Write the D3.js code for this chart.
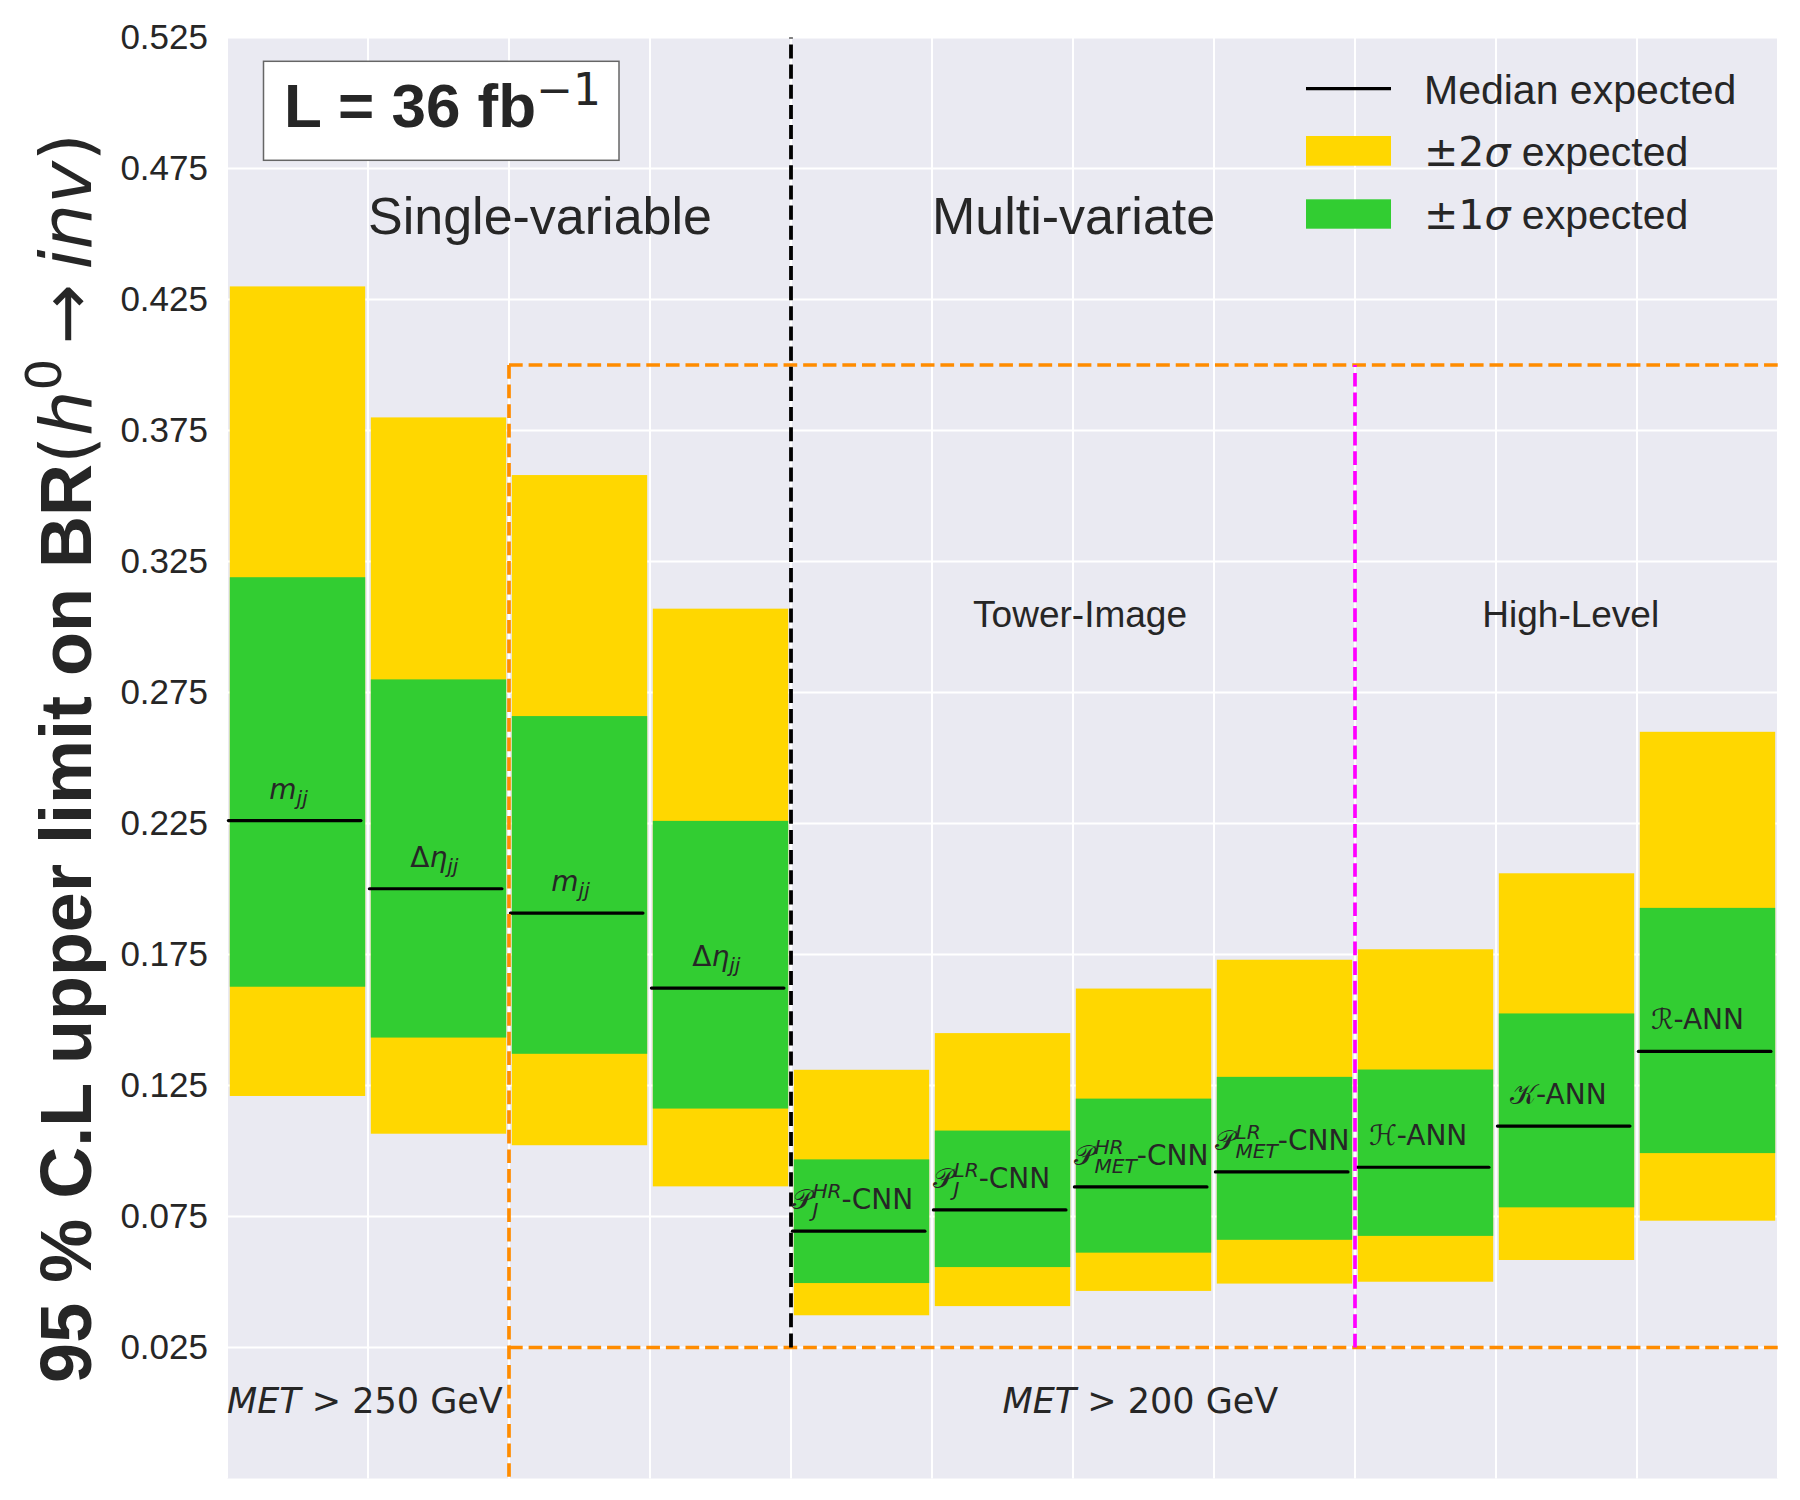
<!DOCTYPE html>
<html>
<head>
<meta charset="utf-8">
<script src="https://cdn.jsdelivr.net/npm/d3@7"></script>
<style>
  body { margin: 0; background: #fff; }
  text { fill: #262626; }
</style>
</head>
<body>
<div id="my_dataviz"></div>
<script>
// values
var hi2 = [0.430, 0.380, 0.358, 0.307, 0.131, 0.145, 0.162, 0.173, 0.177, 0.206, 0.260];
var hi1 = [0.319, 0.280, 0.266, 0.226, 0.0968, 0.1078, 0.120, 0.1283, 0.1311, 0.1525, 0.1928];
var median = [0.2261, 0.2001, 0.1908, 0.1622, 0.0694, 0.0775, 0.0863, 0.0920, 0.0938, 0.1095, 0.1380];
var lo1 = [0.1627, 0.1433, 0.1371, 0.1162, 0.0496, 0.0557, 0.0612, 0.0661, 0.0676, 0.0785, 0.0992];
var lo2 = [0.1210, 0.1066, 0.1022, 0.0865, 0.0373, 0.0408, 0.0466, 0.0494, 0.0501, 0.0584, 0.0734];

var labelMain = ["m", "Δη", "m", "Δη", "𝒫", "𝒫", "𝒫", "𝒫", "ℋ", "𝒦", "ℛ"];
var labelSup  = ["", "", "", "", "HR", "LR", "HR", "LR", "", "", ""];
var labelSub  = ["jj", "jj", "jj", "jj", "J", "J", "MET", "MET", "", "", ""];
var labelTail = ["", "", "", "", "-CNN", "-CNN", "-CNN", "-CNN", "-ANN", "-ANN", "-ANN"];

var yTicks = [0.025, 0.075, 0.125, 0.175, 0.225, 0.275, 0.325, 0.375, 0.425, 0.475, 0.525];
var xGrid = [0, 1, 2, 3, 4, 5, 6, 7, 8, 9, 10, 11];

var W = 1800, H = 1500;
var margin = {top: 37.5, right: 22, bottom: 21.5, left: 227},
    width = W - margin.left - margin.right,
    height = H - margin.top - margin.bottom;

var svg = d3.select("#my_dataviz")
  .append("svg")
    .attr("width", W)
    .attr("height", H);
var g = svg.append("g")
    .attr("transform", "translate(" + margin.left + "," + margin.top + ")");

var x = d3.scaleLinear().domain([0, 11]).range([0, width]);
var y = d3.scaleLinear().domain([-0.025, 0.525]).range([height, 0]);

var SANS = "'Liberation Sans', Arial, sans-serif";
var MATH = "'DejaVu Sans', sans-serif";

// background + grid
g.append("rect").attr("width", width).attr("height", height).attr("fill", "#EAEAF2");
g.selectAll(".hgrid").data(yTicks).enter().append("line")
  .attr("x1", 0).attr("x2", width)
  .attr("y1", d => y(d)).attr("y2", d => y(d))
  .attr("stroke", "#fff").attr("stroke-width", 2);
g.selectAll(".vgrid").data(xGrid).enter().append("line")
  .attr("x1", d => x(d)).attr("x2", d => x(d))
  .attr("y1", 0).attr("y2", height)
  .attr("stroke", "#fff").attr("stroke-width", 2);

// y axis
var yAxis = g.append("g")
  .call(d3.axisLeft(y).tickValues(yTicks).tickSize(0).tickPadding(19).tickFormat(d3.format(".3f")));
yAxis.select(".domain").remove();
yAxis.selectAll("text").style("font-family", SANS).style("font-size", "35px").attr("fill", "#262626");

// bars
var idx = d3.range(median.length);
var bw = 0.96;
g.selectAll(".b2").data(idx).enter().append("rect")
  .attr("x", i => x(i + 0.5 - bw / 2))
  .attr("width", x(bw) - x(0))
  .attr("y", i => y(hi2[i]))
  .attr("height", i => y(lo2[i]) - y(hi2[i]))
  .attr("fill", "#FFD700");
g.selectAll(".b1").data(idx).enter().append("rect")
  .attr("x", i => x(i + 0.5 - bw / 2))
  .attr("width", x(bw) - x(0))
  .attr("y", i => y(hi1[i]))
  .attr("height", i => y(lo1[i]) - y(hi1[i]))
  .attr("fill", "#32CD32");
g.selectAll(".med").data(idx).enter().append("line")
  .attr("x1", i => x(i + 0.01)).attr("x2", i => x(i + 0.95))
  .attr("y1", i => y(median[i])).attr("y2", i => y(median[i]))
  .attr("stroke", "#000").attr("stroke-width", 3.2).attr("stroke-linecap", "round");

// dashed separators
function dline(x1, y1, x2, y2, col, lw) {
  g.append("line")
    .attr("x1", x(x1)).attr("y1", y(y1)).attr("x2", x(x2)).attr("y2", y(y2))
    .attr("stroke", col).attr("stroke-width", lw)
    .attr("stroke-dasharray", (3.7 * lw) + "," + (1.6 * lw));
}
dline(2, 0.40, 2, -0.025, "#FF8C00", 3.7);
dline(2, 0.40, 11, 0.40, "#FF8C00", 3.7);
dline(2, 0.025, 11, 0.025, "#FF8C00", 3.7);
dline(4, 0.025, 4, 0.525, "#000", 3.8);
dline(8, 0.025, 8, 0.40, "#FF00FF", 3.7);

// text width helper
function measure(str, family, size, style) {
  var t = svg.append("text").style("font-family", family).style("font-size", size + "px")
    .style("font-style", style || "normal").text(str);
  var w = t.node().getComputedTextLength();
  t.remove();
  return w;
}

// bar labels (math-like: main, stacked sup/sub, tail) in one text each
var fs = 28, fss = fs * 0.72;
idx.forEach(function(i) {
  var x0 = x(i + (i < 4 ? 0.3 : (i < 8 ? 0.01 : 0.1)));
  var yb = y(median[i]) - 22;
  var t = g.append("text").attr("x", x0).attr("y", yb)
    .style("font-family", MATH).style("font-size", fs + "px");
  Array.from(labelMain[i]).forEach(function(ch) {
    var upright = /[Δ𝒫ℋ𝒦ℛ]/u.test(ch);
    t.append("tspan").text(ch).style("font-style", upright ? "normal" : "italic");
  });
  var supW = labelSup[i] ? measure(labelSup[i], MATH, fss, "italic") : 0;
  var subW = labelSub[i] ? measure(labelSub[i], MATH, fss, "italic") : 0;
  var shift = 0;
  if (labelSup[i]) {
    t.append("tspan").attr("dy", -11).style("font-size", fss + "px").style("font-style", "italic")
      .text(labelSup[i]);
    shift = -11;
  }
  if (labelSub[i]) {
    var dy = labelSup[i] ? 19 : 6;
    t.append("tspan").attr("dx", labelSup[i] ? -supW : 0).attr("dy", dy)
      .style("font-size", fss + "px").style("font-style", "italic")
      .text(labelSub[i]);
    shift += dy;
  }
  if (labelTail[i]) {
    var back = labelSup[i] ? Math.max(supW, subW) - subW : 0;
    t.append("tspan").attr("dx", back).attr("dy", -shift).text(labelTail[i]);
  }
});

// region texts
function note(tx, ty, str, size, anchor) {
  g.append("text").attr("x", x(tx)).attr("y", y(ty))
    .attr("text-anchor", anchor || "start")
    .style("font-family", SANS).style("font-size", size + "px")
    .text(str);
}
note(1, 0.45, "Single-variable", 52);
note(5, 0.45, "Multi-variate", 52);
note(6.05, 0.30, "Tower-Image", 37, "middle");
note(9.53, 0.30, "High-Level", 37, "middle");

function metNote(tx, val) {
  var t = g.append("text").attr("x", x(tx)).attr("y", y(0.0))
    .style("font-family", MATH).style("font-size", "35px");
  t.append("tspan").style("font-style", "italic").text("MET");
  t.append("tspan").text(" > " + val + " GeV");
}
metNote(0, 250);
metNote(5.5, 200);

// luminosity box
svg.append("rect").attr("x", 263.5).attr("y", 61.3).attr("width", 355.5).attr("height", 99)
  .attr("fill", "#fff").attr("stroke", "#666").attr("stroke-width", 1.5);
var lum = svg.append("text").attr("x", 284).attr("y", 127)
  .style("font-family", SANS).style("font-size", "62px").style("font-weight", "bold");
lum.append("tspan").text("L = 36 fb");
lum.append("tspan").attr("dy", -22).style("font-family", MATH).style("font-weight", "normal")
  .style("font-size", "44px").text("−1");

// legend
var lg = svg.append("g");
lg.append("line").attr("x1", 1306).attr("x2", 1391).attr("y1", 88.7).attr("y2", 88.7)
  .attr("stroke", "#000").attr("stroke-width", 3.2);
lg.append("rect").attr("x", 1306).attr("y", 136).attr("width", 85).attr("height", 29.7).attr("fill", "#FFD700");
lg.append("rect").attr("x", 1306).attr("y", 199.3).attr("width", 85).attr("height", 29.4).attr("fill", "#32CD32");
lg.append("text").attr("x", 1424).attr("y", 104)
  .style("font-family", SANS).style("font-size", "41px").text("Median expected");
[["2", 166], ["1", 229]].forEach(function(r) {
  var t = lg.append("text").attr("x", 1424).attr("y", r[1]).style("font-size", "41px");
  t.append("tspan").style("font-family", MATH).text("±" + r[0]);
  t.append("tspan").style("font-family", MATH).style("font-style", "italic").text("σ");
  t.append("tspan").style("font-family", SANS).text(" expected");
});

// y axis label
var yl = svg.append("text")
  .attr("transform", "translate(91," + (margin.top + height / 2) + ") rotate(-90)")
  .attr("text-anchor", "middle")
  .style("font-size", "72px");
yl.append("tspan").style("font-family", SANS).style("font-weight", "bold").text("95 % C.L upper limit on BR");
yl.append("tspan").style("font-family", MATH).text("(");
yl.append("tspan").style("font-family", MATH).style("font-style", "italic").text("h");
yl.append("tspan").style("font-family", MATH).style("font-size", "50px").attr("dy", -30).text("0");
yl.append("tspan").style("font-family", MATH).attr("dy", 30).text("\u2009→\u2009");
yl.append("tspan").style("font-family", MATH).style("font-style", "italic").text("inv");
yl.append("tspan").style("font-family", MATH).text(")");
</script>
</body>
</html>
